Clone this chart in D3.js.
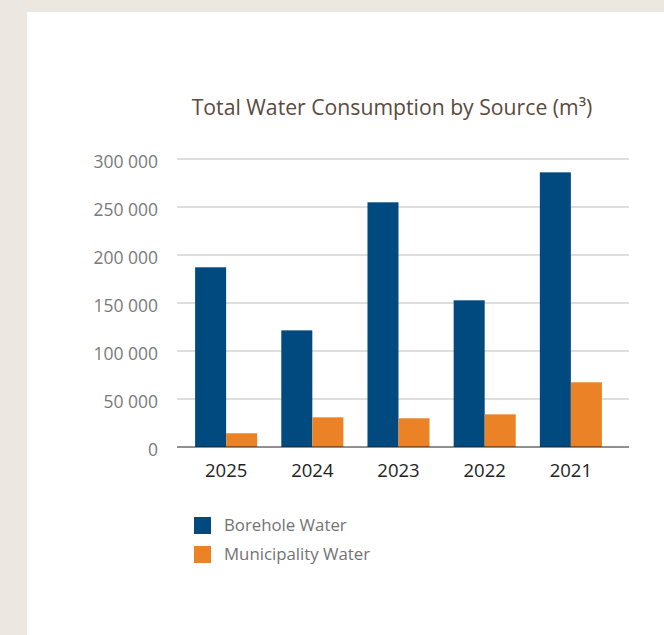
<!DOCTYPE html>
<html>
<head>
<meta charset="utf-8">
<script src="https://cdn.jsdelivr.net/npm/d3@7/dist/d3.min.js"></script>
<style>
  html, body { margin: 0; padding: 0; background: #ECE8E1; }
  svg { display: block; }
</style>
</head>
<body>
<script>
// Annual water consumption by source, in cubic metres
const years = ["2025", "2024", "2023", "2022", "2021"];
const borehole = [187200, 121500, 254900, 152800, 286100];
const municipality = [14300, 30900, 29900, 34000, 67400];
const seriesNames = ["Borehole Water", "Municipality Water"];
const yTicks = [0, 50000, 100000, 150000, 200000, 250000, 300000];

const W = 664, H = 635;
const colors = ["#004A80", "#EB8226"];
const font = "'Open Sans', 'Noto Sans', sans-serif";

const svg = d3.select("body").append("svg")
  .attr("width", W).attr("height", H);

// white card on the beige page
svg.append("rect").attr("x", 27).attr("y", 12)
  .attr("width", W - 27).attr("height", H - 12).attr("fill", "#fff");

svg.append("text")
  .attr("x", 392).attr("y", 115)
  .attr("text-anchor", "middle")
  .attr("font-family", font).attr("font-size", 21.2)
  .attr("fill", "#5B4A40")
  .text("Total Water Consumption by Source (m³)");

const gridLeft = 177, gridRight = 629;
const y = d3.scaleLinear().domain([0, 300000]).range([447, 159]);
const x0 = d3.scaleBand().domain(years).range([177, 620])
  .paddingInner(0.28).paddingOuter(0.21);
const x1 = d3.scaleBand().domain(seriesNames).range([0, x0.bandwidth()]);

// horizontal gridlines
svg.append("g").selectAll("line")
  .data(yTicks.filter(d => d > 0))
  .join("line")
  .attr("x1", gridLeft).attr("x2", gridRight)
  .attr("y1", d => y(d)).attr("y2", d => y(d))
  .attr("stroke", "#BDBDBD").attr("stroke-width", 1.2);

// y axis labels
const fmt = d => d3.format(",")(d).replace(/,/g, " ");
const yAxis = d3.axisLeft(y).tickValues(yTicks).tickFormat(fmt)
  .tickSize(0).tickPadding(0);
const gy = svg.append("g").attr("transform", `translate(158,2)`).call(yAxis);
gy.select(".domain").remove();
gy.selectAll("text")
  .attr("font-family", font).attr("font-size", 17.5)
  .attr("fill", "#7A7A7A").attr("dy", "0.35em");

// bars
const rows = years.map((yr, i) => ({ year: yr, values: [borehole[i], municipality[i]] }));
svg.append("g").selectAll("g")
  .data(rows).join("g")
  .attr("transform", d => `translate(${x0(d.year)},0)`)
  .selectAll("rect")
  .data(d => d.values.map((v, k) => ({ key: seriesNames[k], v, k })))
  .join("rect")
  .attr("x", d => x1(d.key))
  .attr("width", x1.bandwidth())
  .attr("y", d => y(d.v))
  .attr("height", d => y(0) - y(d.v))
  .attr("fill", d => colors[d.k]);

// baseline
svg.append("line")
  .attr("x1", gridLeft).attr("x2", gridRight)
  .attr("y1", y(0)).attr("y2", y(0))
  .attr("stroke", "#222").attr("stroke-width", 1.2);

// x axis labels
const xAxis = d3.axisBottom(x0).tickSize(0).tickPadding(0);
const gx = svg.append("g").attr("transform", `translate(0,${y(0)})`).call(xAxis);
gx.select(".domain").remove();
gx.selectAll("text")
  .attr("font-family", font).attr("font-size", 18.5)
  .attr("fill", "#222").attr("dy", 0).attr("y", 30);

// legend
const lg = svg.append("g").selectAll("g")
  .data(seriesNames).join("g")
  .attr("transform", (d, i) => `translate(194,${517 + i * 29})`);
lg.append("rect").attr("width", 17).attr("height", 17)
  .attr("fill", (d, i) => colors[i]);
lg.append("text").attr("x", 30).attr("y", 13.5)
  .attr("font-family", font).attr("font-size", 16.8)
  .attr("fill", "#737373").text(d => d);
</script>
</body>
</html>
